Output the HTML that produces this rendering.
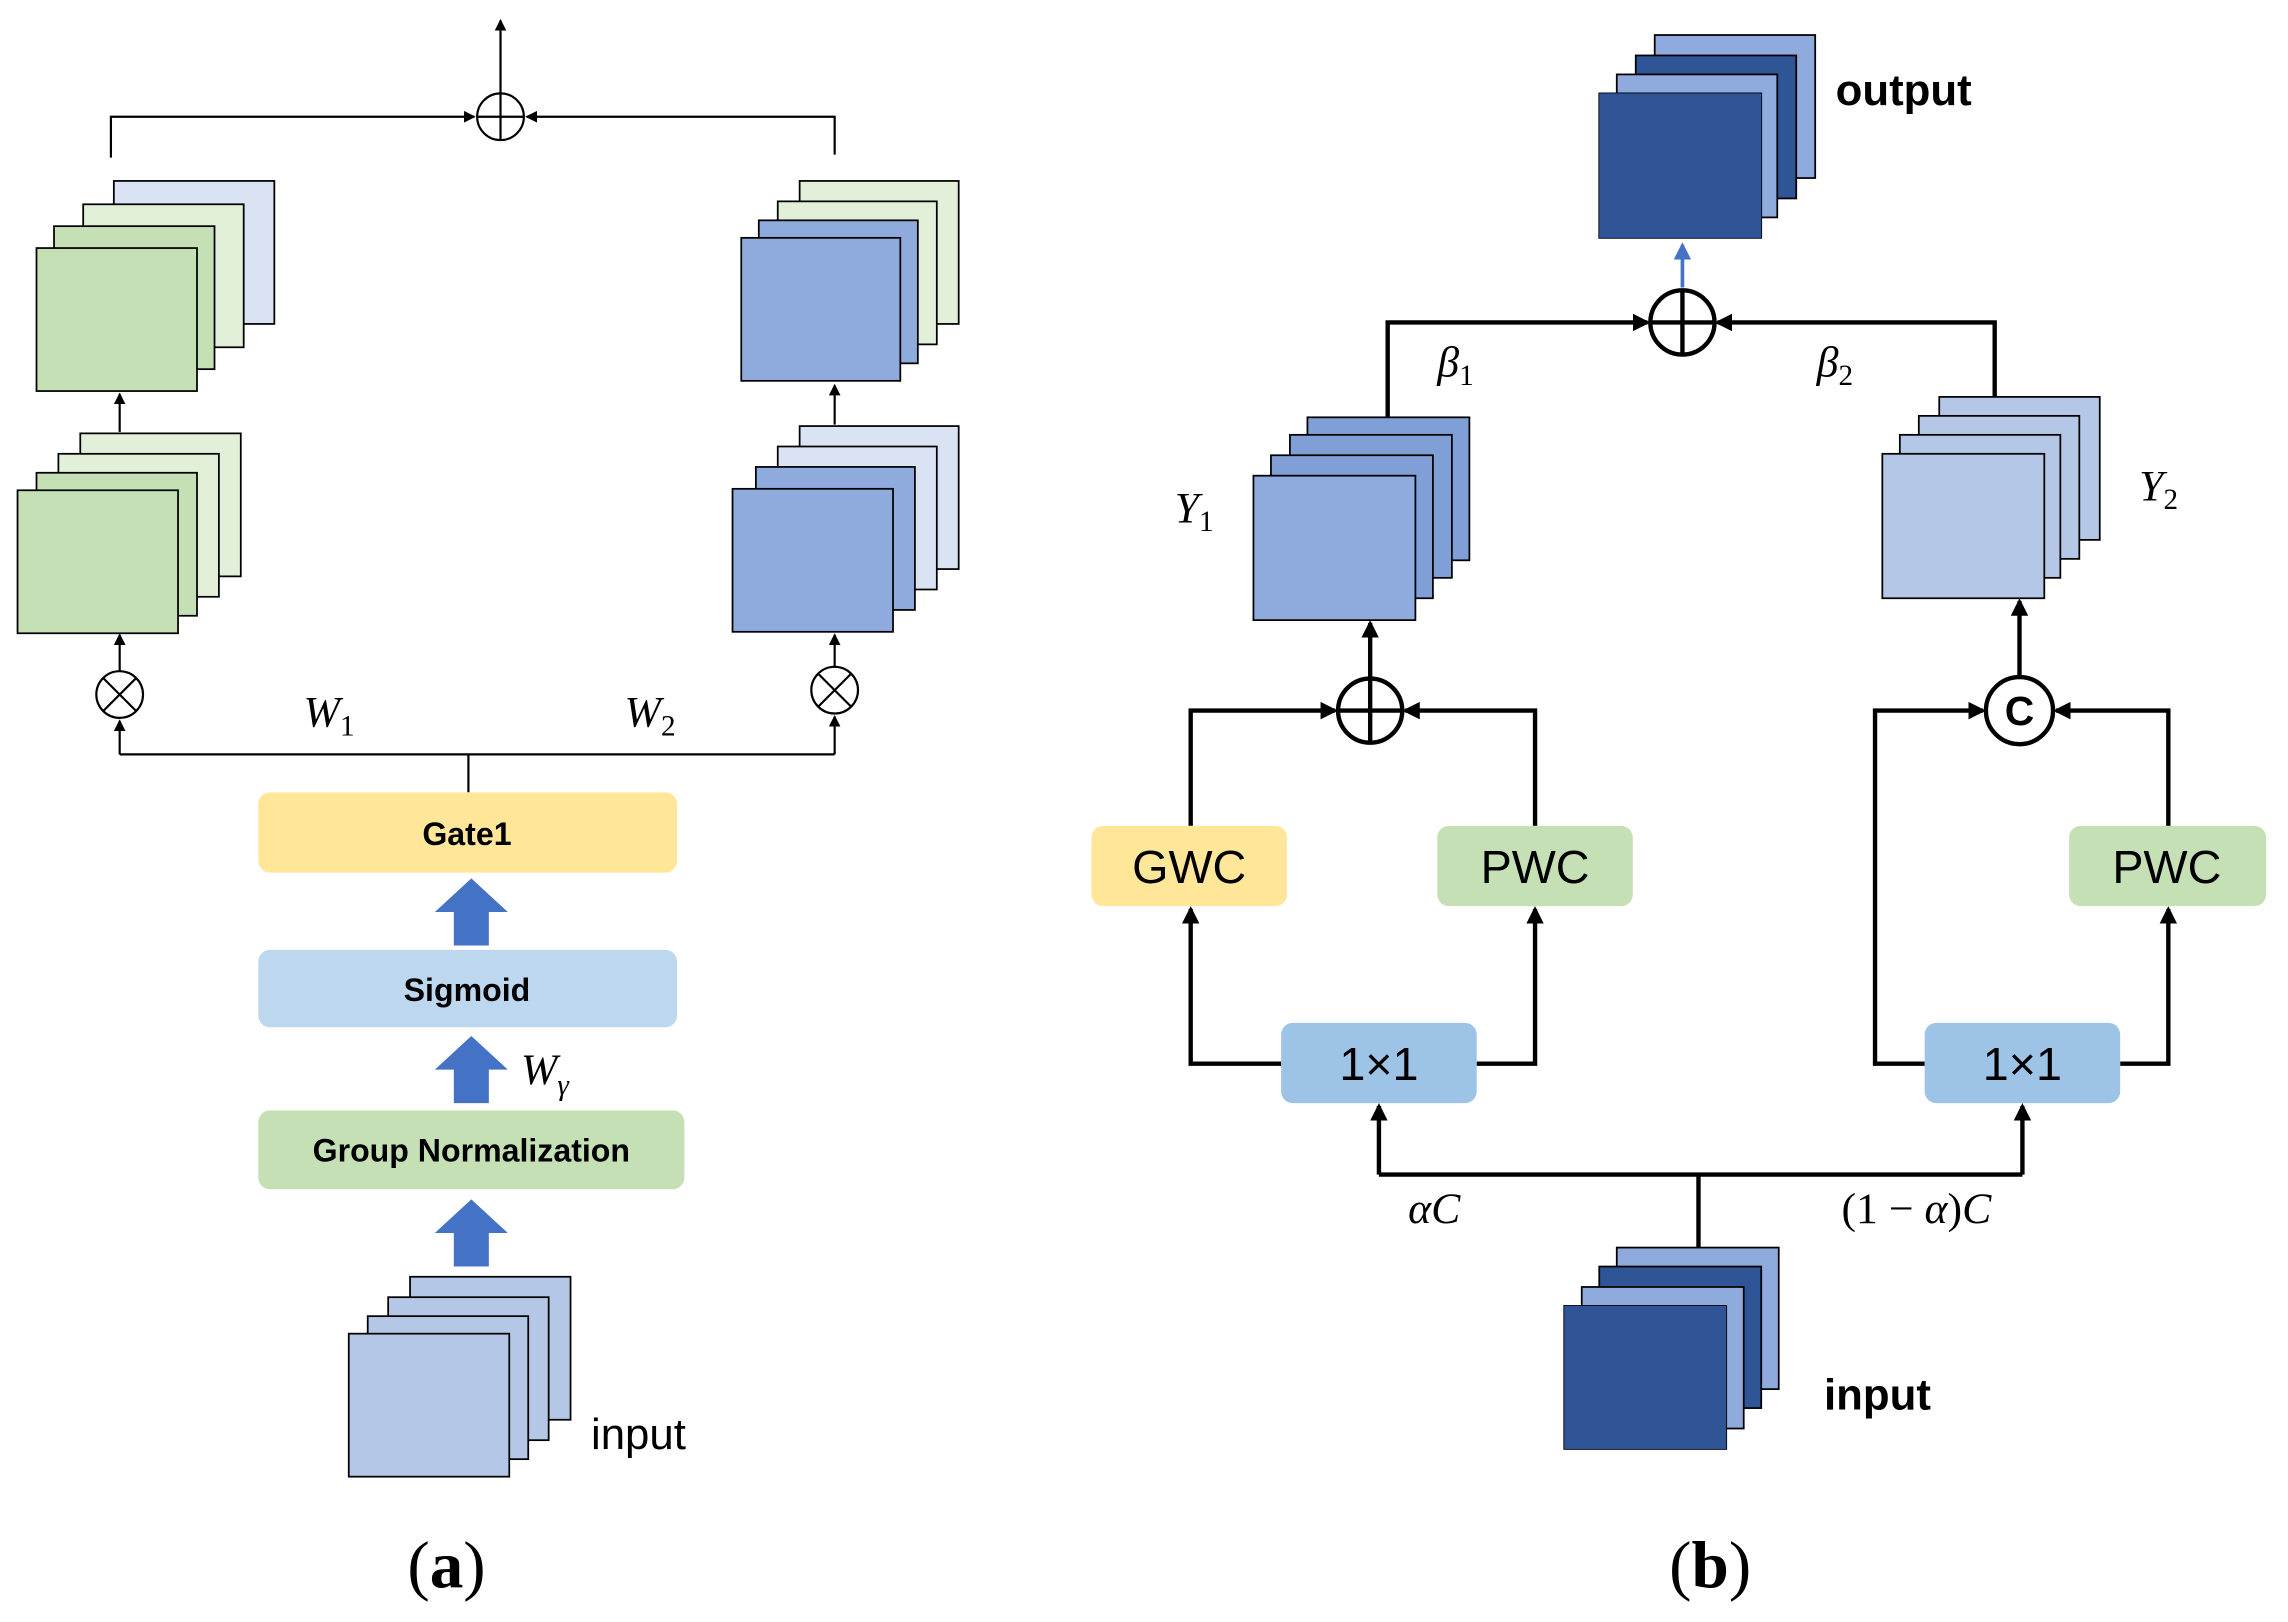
<!DOCTYPE html>
<html><head><meta charset="utf-8"><style>
html,body{margin:0;padding:0;background:#fff}
svg{display:block}
.s{font-family:"Liberation Sans",sans-serif}
.m{font-family:"Liberation Serif",serif;font-style:italic}
</style></head><body>
<svg width="2288" height="1622" viewBox="0 0 1568 1111.6" xmlns="http://www.w3.org/2000/svg">
<defs>
<marker id="a" markerWidth="8" markerHeight="8" refX="7" refY="4" orient="auto" markerUnits="userSpaceOnUse"><path d="M0,0 L8,4 L0,8 Z" fill="#000"/></marker>
<marker id="b" markerWidth="12" markerHeight="12" refX="10" refY="6" orient="auto" markerUnits="userSpaceOnUse"><path d="M0,0 L12,6 L0,12 Z" fill="#000"/></marker>
<marker id="c" markerWidth="12" markerHeight="12" refX="10" refY="6" orient="auto" markerUnits="userSpaceOnUse"><path d="M0,0 L12,6 L0,12 Z" fill="#4472c4"/></marker>
</defs>
<g stroke="#000" stroke-width="1.5" fill="none">
<!-- panel a lines -->
<line x1="343" y1="64" x2="343" y2="14" marker-end="url(#a)"/>
<polyline points="76,108 76,80 325,80" marker-end="url(#a)"/>
<polyline points="572,106 572,80 361,80" marker-end="url(#a)"/>
<circle cx="343" cy="80" r="16"/><line x1="327" y1="80" x2="359" y2="80"/><line x1="343" y1="64" x2="343" y2="96"/>
<line x1="82" y1="296" x2="82" y2="270" marker-end="url(#a)"/>
<line x1="572" y1="291" x2="572" y2="264" marker-end="url(#a)"/>
<line x1="82" y1="460" x2="82" y2="435" marker-end="url(#a)"/>
<line x1="572" y1="457" x2="572" y2="435" marker-end="url(#a)"/>
<circle cx="82" cy="476" r="16"/><line x1="71" y1="465" x2="93" y2="487"/><line x1="93" y1="465" x2="71" y2="487"/>
<circle cx="572" cy="473" r="16"/><line x1="561" y1="462" x2="583" y2="484"/><line x1="583" y1="462" x2="561" y2="484"/>
<polyline points="82,517 82,494" marker-end="url(#a)"/>
<polyline points="572,517 572,491" marker-end="url(#a)"/>
<line x1="82" y1="517" x2="572" y2="517"/>
<line x1="321" y1="517" x2="321" y2="543"/>
</g>
<!-- panel a stacks -->
<g stroke="#000" stroke-width="1.2">
<rect x="78" y="124" width="110" height="98" fill="#dae3f3"/>
<rect x="57" y="140" width="110" height="98" fill="#e2f0d9"/>
<rect x="37" y="155" width="110" height="98" fill="#c5e0b4"/>
<rect x="25" y="170" width="110" height="98" fill="#c5e0b4"/>
<rect x="55" y="297" width="110" height="98" fill="#e2f0d9"/>
<rect x="40" y="311" width="110" height="98" fill="#e2f0d9"/>
<rect x="25" y="324" width="110" height="98" fill="#c5e0b4"/>
<rect x="12" y="336" width="110" height="98" fill="#c5e0b4"/>
<rect x="548" y="124" width="109" height="98" fill="#e2f0d9"/>
<rect x="533" y="138" width="109" height="98" fill="#e2f0d9"/>
<rect x="520" y="151" width="109" height="98" fill="#8faadc"/>
<rect x="508" y="163" width="109" height="98" fill="#8faadc"/>
<rect x="548" y="292" width="109" height="98" fill="#dae3f3"/>
<rect x="533" y="306" width="109" height="98" fill="#dae3f3"/>
<rect x="518" y="320" width="109" height="98" fill="#8faadc"/>
<rect x="502" y="335" width="110" height="98" fill="#8faadc"/>
<rect x="281" y="875" width="110" height="98" fill="#b4c7e7"/>
<rect x="266" y="889" width="110" height="98" fill="#b4c7e7"/>
<rect x="252" y="902" width="110" height="98" fill="#b4c7e7"/>
<rect x="239" y="914" width="110" height="98" fill="#b4c7e7"/>
</g>
<text x="208" y="498" class="m" font-size="30">W<tspan font-size="20" dy="6" font-style="normal">1</tspan></text>
<text x="428" y="498" class="m" font-size="30">W<tspan font-size="20" dy="6" font-style="normal">2</tspan></text>
<rect x="177" y="543" width="287" height="55" rx="8" fill="#ffe699"/>
<text x="320" y="579" class="s" font-size="22" font-weight="bold" text-anchor="middle">Gate1</text>
<rect x="177" y="651" width="287" height="53" rx="8" fill="#bdd7ee"/>
<text x="320" y="686" class="s" font-size="22" font-weight="bold" text-anchor="middle">Sigmoid</text>
<rect x="177" y="761" width="292" height="54" rx="8" fill="#c5e0b4"/>
<text x="323" y="796" class="s" font-size="22" font-weight="bold" text-anchor="middle">Group Normalization</text>
<g fill="#4472c4">
<path d="M311,648 L311,625 L298,625 L323,602 L348,625 L335,625 L335,648 Z"/>
<path d="M311,756 L311,733 L298,733 L323,710 L348,733 L335,733 L335,756 Z"/>
<path d="M311,868 L311,845 L298,845 L323,822 L348,845 L335,845 L335,868 Z"/>
</g>
<text x="357" y="743" class="m" font-size="30">W<tspan font-size="20" dy="7">γ</tspan></text>
<text x="405" y="993" class="s" font-size="30">input</text>
<text x="306" y="1088" font-family="Liberation Serif,serif" font-size="46" text-anchor="middle">(<tspan font-weight="bold">a</tspan>)</text>

<!-- panel b -->
<g stroke="#000" stroke-width="1.2">
<rect x="1134" y="24" width="110" height="98" fill="#8faadc"/>
<rect x="1121" y="38" width="110" height="98" fill="#2f5597"/>
<rect x="1108" y="51" width="110" height="98" fill="#8faadc"/>
<rect x="1096" y="64" width="111" height="99" fill="#2f5597"/>
<rect x="896" y="286" width="111" height="98" fill="#7f9fd6"/>
<rect x="884" y="298" width="111" height="98" fill="#7f9fd6"/>
<rect x="871" y="312" width="111" height="98" fill="#7f9fd6"/>
<rect x="859" y="326" width="111" height="99" fill="#8faadc"/>
<rect x="1329" y="272" width="110" height="98" fill="#b4c7e7"/>
<rect x="1315" y="285" width="110" height="98" fill="#b4c7e7"/>
<rect x="1302" y="298" width="110" height="98" fill="#b4c7e7"/>
<rect x="1290" y="311" width="111" height="99" fill="#b4c7e7"/>
<rect x="1108" y="855" width="111" height="97" fill="#8faadc"/>
<rect x="1096" y="868" width="111" height="97" fill="#2f5597"/>
<rect x="1084" y="882" width="111" height="97" fill="#8faadc"/>
<rect x="1072" y="895" width="111" height="98" fill="#2f5597"/>
</g>
<rect x="1096" y="64" width="111" height="99" fill="#2f5597"/>
<rect x="1072" y="895" width="111" height="98" fill="#2f5597"/>
<text x="1258" y="72" class="s" font-size="30" font-weight="bold">output</text>
<text x="1250" y="966" class="s" font-size="30" font-weight="bold">input</text>
<line x1="1153" y1="197" x2="1153" y2="168" stroke="#4472c4" stroke-width="2.5" marker-end="url(#c)"/>
<g stroke="#000" stroke-width="3" fill="none">
<circle cx="1153" cy="221" r="22"/><line x1="1131" y1="221" x2="1175" y2="221"/><line x1="1153" y1="199" x2="1153" y2="243"/>
<polyline points="951,286 951,221 1129,221" marker-end="url(#b)"/>
<polyline points="1367,272 1367,221 1177,221" marker-end="url(#b)"/>
<line x1="939" y1="464" x2="939" y2="427" marker-end="url(#b)"/>
<circle cx="939" cy="487" r="22"/><line x1="917" y1="487" x2="961" y2="487"/><line x1="939" y1="465" x2="939" y2="509"/>
<polyline points="816,566 816,487 915,487" marker-end="url(#b)"/>
<polyline points="1052,566 1052,487 963,487" marker-end="url(#b)"/>
<polyline points="878,729 816,729 816,623" marker-end="url(#b)"/>
<polyline points="1012,729 1052,729 1052,623" marker-end="url(#b)"/>
<line x1="1384" y1="464" x2="1384" y2="412" marker-end="url(#b)"/>
<circle cx="1384" cy="487" r="23"/>
<polyline points="1319,729 1285,729 1285,487 1359,487" marker-end="url(#b)"/>
<polyline points="1453,729 1486,729 1486,623" marker-end="url(#b)"/>
<polyline points="1486,566 1486,487 1409,487" marker-end="url(#b)"/>
<polyline points="945,805 945,758" marker-end="url(#b)"/>
<polyline points="1386,805 1386,758" marker-end="url(#b)"/>
<line x1="945" y1="805" x2="1386" y2="805"/>
<line x1="1164" y1="805" x2="1164" y2="855"/>
</g>
<text x="1384" y="497" class="s" font-size="28" font-weight="bold" text-anchor="middle">C</text>
<rect x="748" y="566" width="134" height="55" rx="8" fill="#ffe699"/>
<text x="815" y="605" class="s" font-size="32" text-anchor="middle">GWC</text>
<rect x="985" y="566" width="134" height="55" rx="8" fill="#c5e0b4"/>
<text x="1052" y="605" class="s" font-size="32" text-anchor="middle">PWC</text>
<rect x="1418" y="566" width="135" height="55" rx="8" fill="#c5e0b4"/>
<text x="1485" y="605" class="s" font-size="32" text-anchor="middle">PWC</text>
<rect x="878" y="701" width="134" height="55" rx="8" fill="#9dc3e6"/>
<text x="945" y="740" class="s" font-size="32" text-anchor="middle">1×1</text>
<rect x="1319" y="701" width="134" height="55" rx="8" fill="#9dc3e6"/>
<text x="1386" y="740" class="s" font-size="32" text-anchor="middle">1×1</text>
<text x="985" y="258" class="m" font-size="30">β<tspan font-size="20" dy="6" font-style="normal">1</tspan></text>
<text x="1245" y="258" class="m" font-size="30">β<tspan font-size="20" dy="6" font-style="normal">2</tspan></text>
<text x="805" y="358" class="m" font-size="30">Y<tspan font-size="20" dy="6" font-style="normal">1</tspan></text>
<text x="1466" y="343" class="m" font-size="30">Y<tspan font-size="20" dy="6" font-style="normal">2</tspan></text>
<text x="965" y="838" class="m" font-size="30">αC</text>
<text x="1262" y="838" font-family="Liberation Serif,serif" font-size="30">(1 − <tspan font-style="italic">α</tspan>)<tspan font-style="italic">C</tspan></text>
<text x="1172" y="1088" font-family="Liberation Serif,serif" font-size="46" text-anchor="middle">(<tspan font-weight="bold">b</tspan>)</text>
</svg>
</body></html>
